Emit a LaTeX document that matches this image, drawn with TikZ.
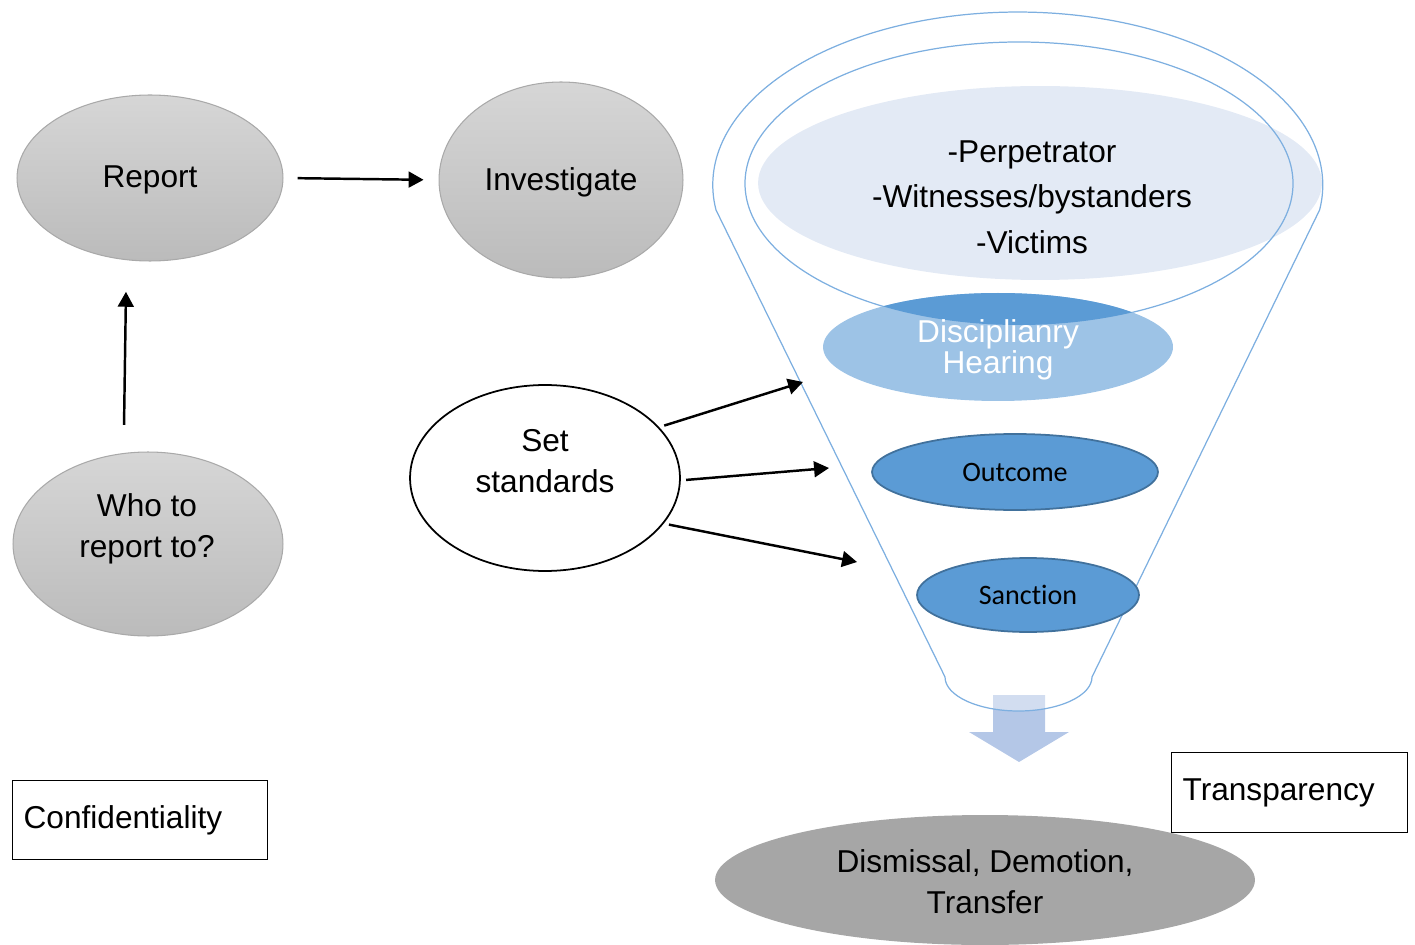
\documentclass[tikz,border=0pt]{standalone}
\usepackage{fontspec}
\setmainfont{Liberation Sans}
\newfontfamily\calfont[Ligatures=NoCommon]{Carlito}
\usetikzlibrary{arrows.meta,shapes.geometric}

\definecolor{grayline}{HTML}{A9A9A9}
\definecolor{graytop}{HTML}{D6D6D6}
\definecolor{graybot}{HTML}{BBBBBB}
\definecolor{funnelblue}{HTML}{7DAFE0}
\definecolor{paleblue}{HTML}{E3EAF5}
\definecolor{hearblue}{HTML}{9DC3E6}
\definecolor{midblue}{HTML}{5B9BD5}
\definecolor{edgeblue}{HTML}{41719C}
\definecolor{arrowblue}{HTML}{B4C7E7}
\definecolor{resultgray}{HTML}{A6A6A6}

\tikzset{
  grayell/.style={ellipse, inner sep=0pt, draw=grayline, line width=0.6pt,
                  top color=graytop, bottom color=graybot},
  whiteell/.style={ellipse, inner sep=0pt, draw=black, line width=1pt, fill=white},
  blueell/.style={ellipse, inner sep=0pt, draw=edgeblue, line width=1pt, fill=midblue},
  plainell/.style={ellipse, inner sep=0pt},
  label18/.style={font=\fontsize{18}{23.5}\selectfont, align=center, inner sep=0pt},
  labelbox/.style={draw=black, line width=0.7pt, fill=white, inner xsep=0.22cm,
                   align=left, font=\fontsize{18}{22}\selectfont},
  funnelline/.style={draw=funnelblue, line width=0.7pt},
  flow/.style={draw=black, line width=1.4pt, -{Triangle[length=8.5pt,width=9pt]}},
}

\begin{document}
\begin{tikzpicture}[x=0.02cm, y=0.02cm]
\useasboundingbox (0,0) rectangle (1415,-945);

% ---- left-hand process ----
\node[grayell, minimum width=5.32cm, minimum height=3.32cm] (report) at (150,-178) {};
\node[label18] (reportt) at (150,-180) {Report};
\node[grayell, minimum width=4.88cm, minimum height=3.92cm] (inv) at (561,-180) {};
\node[label18] (invt) at (561,-182) {Investigate};
\node[grayell, minimum width=5.4cm, minimum height=3.68cm] (who) at (148,-544) {};
\node[label18] (whot) at (147,-529) {Who to\\report to?};
\node[whiteell, minimum width=5.4cm, minimum height=3.72cm] (ss) at (545,-478) {};
\node[label18] (sst) at (545,-461) {Set\\standards};

\draw[flow, shorten <=8pt, shorten >=8.5pt] (report.east) -- (inv.west);
\draw[flow, shorten <=16pt, shorten >=18pt] (who.105) -- (report.-106);

% ---- boxes ----
\node[labelbox, text width=4.66cm, minimum height=1.58cm, anchor=north west] (conf) at (12,-780) {Confidentiality};

% ---- funnel ----
\coordinate (c1) at (803,-382);
\coordinate (c2) at (829,-468);
\coordinate (c3) at (857,-562);

% downward arrow below the funnel
\fill[arrowblue] (993,-695) -- (1045,-695) -- (1045,-732) -- (1069,-732)
  -- (1019,-762) -- (969,-732) -- (993,-732) -- cycle;
\begin{scope}
  \clip (716,-210) arc[start angle=188.3, end angle=-8.3, x radius=305, y radius=173]
    -- (1092,-677) arc[start angle=0, end angle=-180, x radius=73.5, y radius=34] -- cycle;
  \fill[white, opacity=0.4] (990,-690) rectangle (1050,-715);
\end{scope}

% pale top group
\node[plainell, fill=paleblue, minimum width=11.28cm, minimum height=3.88cm] (group) at (1040,-183) {};

% funnel outline
\draw[funnelline] (716,-210) arc[start angle=188.3, end angle=-8.3, x radius=305, y radius=173]
  -- (1092,-677) arc[start angle=0, end angle=-180, x radius=73.5, y radius=34] -- cycle;
\draw[funnelline] (1019,-183.5) ellipse [x radius=274, y radius=141.5];

\node[font=\fontsize{18}{25.8}\selectfont, align=center, inner sep=0pt] (groupt) at (1032,-197)
  {-Perpetrator\\-Witnesses/bystanders\\-Victims};

% disciplinary hearing
\node[plainell, fill=hearblue, minimum width=7cm, minimum height=2.16cm] (dh) at (998,-347) {};
\begin{scope}
  \clip (1019,-183.5) ellipse [x radius=274, y radius=141.5];
  \fill[midblue] (dh.center) ellipse [x radius=175, y radius=54];
\end{scope}
\node[font=\fontsize{18}{18}\selectfont, align=center, inner sep=0pt, text=white] (dht) at (998,-350)
  {Disciplianry\\Hearing};

\node[blueell, minimum width=5.72cm, minimum height=1.52cm, font=\calfont\fontsize{16}{18}\selectfont] (out) at (1015,-472) {Outcome};
\node[blueell, minimum width=4.44cm, minimum height=1.48cm, font=\calfont\fontsize{16}{18}\selectfont] (san) at (1028,-595) {Sanction};

\draw[flow, shorten <=3pt] (ss.24) -- (c1);
\draw[flow, shorten <=3pt] (ss.-1) -- (c2);
\draw[flow, shorten <=3pt] (ss.-21) -- (c3);

% result
\node[plainell, fill=resultgray, minimum width=10.8cm, minimum height=2.6cm] (res) at (985,-880) {};
\node[label18] (rest) at (985,-882) {Dismissal, Demotion,\\Transfer};

\node[labelbox, text width=4.28cm, minimum height=1.6cm, anchor=north west] (trans) at (1171,-752) {Transparency};
\end{tikzpicture}
\end{document}
